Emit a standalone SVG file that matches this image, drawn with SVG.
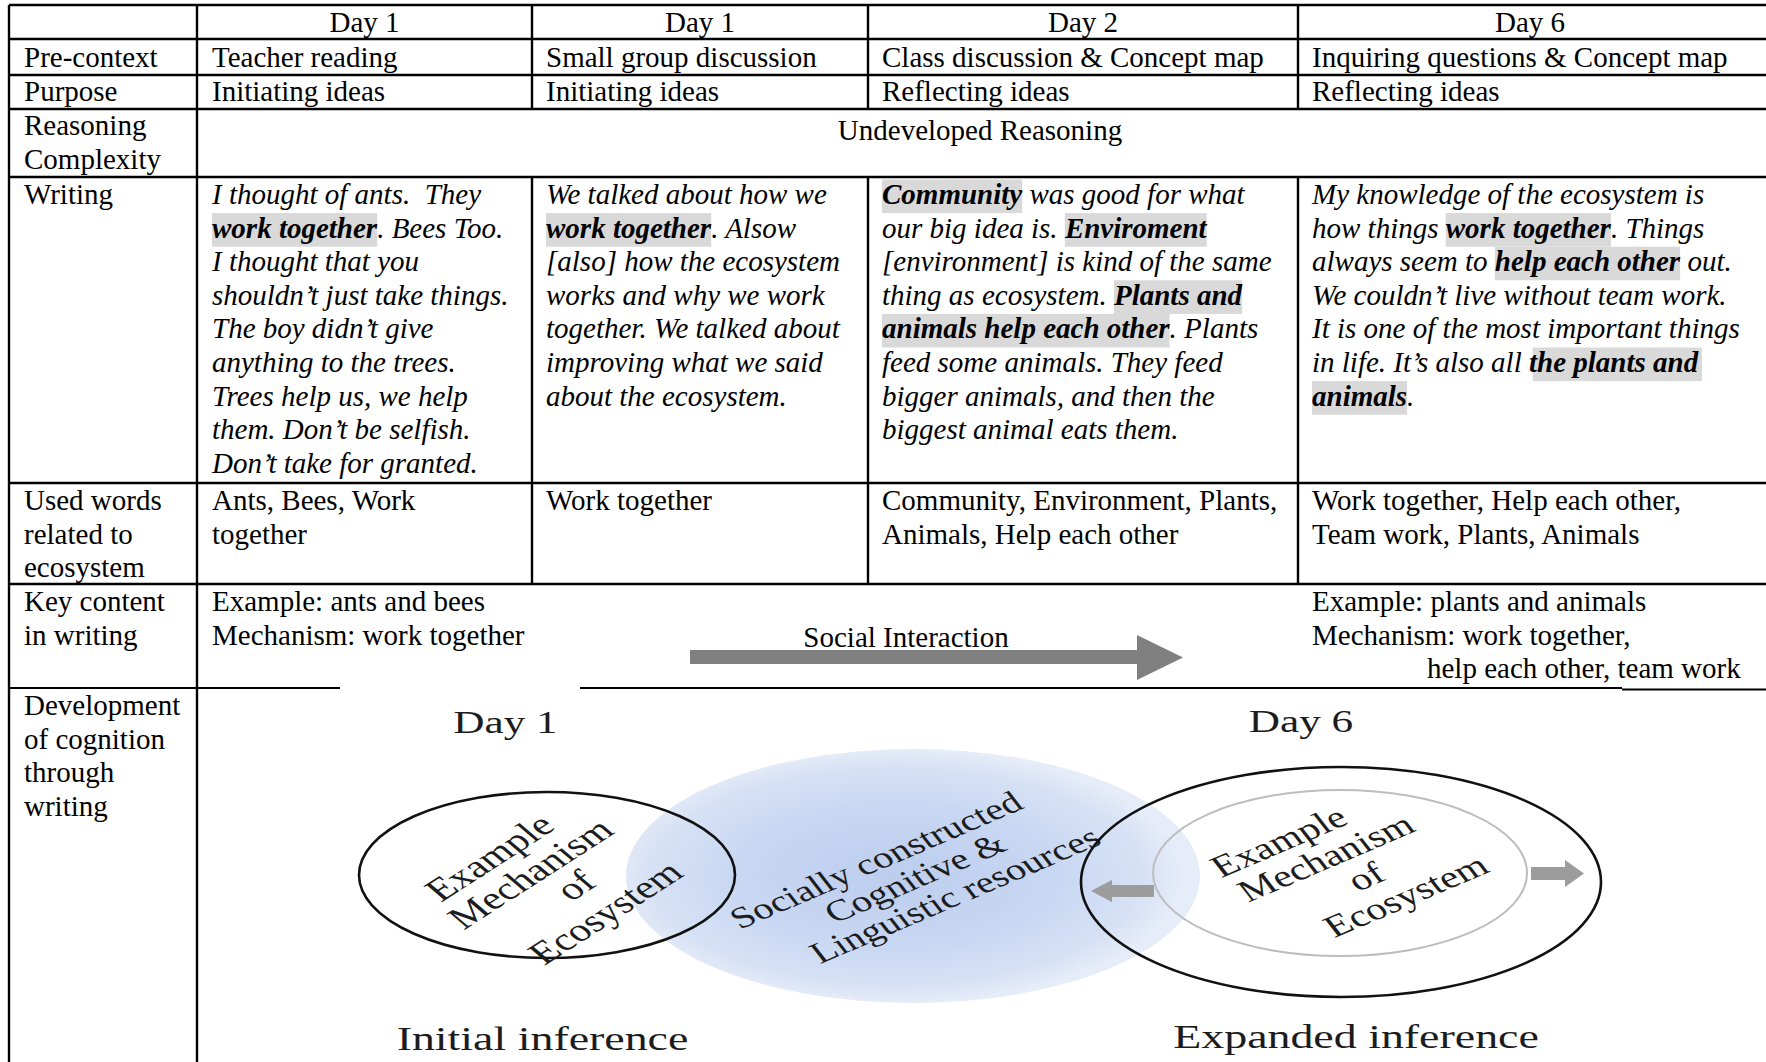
<svg xmlns="http://www.w3.org/2000/svg" width="1766" height="1062" viewBox="0 0 1766 1062">
<defs>
<style>
.t{font-family:"Liberation Serif","Times New Roman",serif;font-size:29px;fill:#000}
.i{font-style:italic}
.b{font-weight:bold}
.c{text-anchor:middle}
.hl{fill:#d9d9d9}
.ln{stroke:#000;stroke-width:2.4;fill:none}
.p{font-family:"Liberation Serif","Times New Roman",serif;fill:#1c1c1c;text-anchor:middle}
.el{fill:none;stroke:#111;stroke-width:2.6}
.ga{fill:#9c9c9c}
</style>
<radialGradient id="blue" cx="0.47" cy="0.5" r="0.5">
<stop offset="0" stop-color="#bccdee"/>
<stop offset="0.55" stop-color="#c8d7f2"/>
<stop offset="0.85" stop-color="#d6e1f5"/>
<stop offset="1" stop-color="#e6ecf8"/>
</radialGradient>
</defs>
<rect width="1766" height="1062" fill="#fff"/>

<g id="grid">
<path class="ln" d="M9 5H1766M9 39H1766M9 75H1766M9 109H1766M9 177H1766M9 483H1766M9 584H1766"/>
<path class="ln" d="M9 5V1062M197 5V1062M532 5V109M532 177V584M868 5V109M868 177V584M1298 5V109M1298 177V584"/>
<path class="ln" style="stroke-width:1.9" d="M9 688H340M580 688H1622M1622 689.5H1766"/>
</g>

<g id="header-row">
<text class="t c" x="364.5" y="32">Day 1</text>
<text class="t c" x="700" y="32">Day 1</text>
<text class="t c" x="1083" y="32">Day 2</text>
<text class="t c" x="1530" y="32">Day 6</text>
</g>

<g id="pre-context-row">
<text class="t" x="24" y="67">Pre-context</text>
<text class="t" x="212" y="67">Teacher reading</text>
<text class="t" x="546" y="67">Small group discussion</text>
<text class="t" x="882" y="67">Class discussion &amp; Concept map</text>
<text class="t" x="1312" y="67">Inquiring questions &amp; Concept map</text>
</g>

<g id="purpose-row">
<text class="t" x="24" y="101">Purpose</text>
<text class="t" x="212" y="101">Initiating ideas</text>
<text class="t" x="546" y="101">Initiating ideas</text>
<text class="t" x="882" y="101">Reflecting ideas</text>
<text class="t" x="1312" y="101">Reflecting ideas</text>
</g>

<g id="reasoning-row">
<text class="t" x="24" y="135">Reasoning</text>
<text class="t" x="24" y="168.6">Complexity</text>
<text class="t c" x="980" y="140">Undeveloped Reasoning</text>
</g>

<g id="writing-row">
<text class="t" x="24" y="204">Writing</text>
<rect class="hl" x="212" y="213.1" width="165.2" height="33.6"/>
<rect class="hl" x="546" y="213.1" width="165.2" height="33.6"/>
<rect class="hl" x="882" y="179.5" width="140.2" height="33.6"/>
<rect class="hl" x="1064.9" y="213.1" width="141.8" height="33.6"/>
<rect class="hl" x="1114" y="280.3" width="128.1" height="33.6"/>
<rect class="hl" x="882" y="313.9" width="287.6" height="33.6"/>
<rect class="hl" x="1445.7" y="213.1" width="165.2" height="33.6"/>
<rect class="hl" x="1494.8" y="246.7" width="185.3" height="33.6"/>
<rect class="hl" x="1532.7" y="347.5" width="169.2" height="33.6"/>
<rect class="hl" x="1312" y="381.1" width="95.1" height="33.6"/>
<g class="t i">
<text x="212" y="204" xml:space="preserve">I thought of ants.  They</text>
<text x="212" y="237.6"><tspan class="b">work together</tspan>. Bees Too.</text>
<text x="212" y="271.2">I thought that you</text>
<text x="212" y="304.8">shouldn’t just take things.</text>
<text x="212" y="338.4">The boy didn’t give</text>
<text x="212" y="372">anything to the trees.</text>
<text x="212" y="405.6">Trees help us, we help</text>
<text x="212" y="439.2">them. Don’t be selfish.</text>
<text x="212" y="472.8">Don’t take for granted.</text>

<text x="546" y="204">We talked about how we</text>
<text x="546" y="237.6"><tspan class="b">work together</tspan>. Alsow</text>
<text x="546" y="271.2">[also] how the ecosystem</text>
<text x="546" y="304.8">works and why we work</text>
<text x="546" y="338.4">together. We talked about</text>
<text x="546" y="372">improving what we said</text>
<text x="546" y="405.6">about the ecosystem.</text>

<text x="882" y="204"><tspan class="b">Community</tspan> was good for what</text>
<text x="882" y="237.6">our big idea is. <tspan class="b">Enviroment</tspan></text>
<text x="882" y="271.2">[environment] is kind of the same</text>
<text x="882" y="304.8">thing as ecosystem. <tspan class="b">Plants and</tspan></text>
<text x="882" y="338.4"><tspan class="b">animals help each other</tspan>. Plants</text>
<text x="882" y="372">feed some animals. They feed</text>
<text x="882" y="405.6">bigger animals, and then the</text>
<text x="882" y="439.2">biggest animal eats them.</text>

<text x="1312" y="204">My knowledge of the ecosystem is</text>
<text x="1312" y="237.6">how things <tspan class="b">work together</tspan>. Things</text>
<text x="1312" y="271.2">always seem to <tspan class="b">help each other</tspan> out.</text>
<text x="1312" y="304.8">We couldn’t live without team work.</text>
<text x="1312" y="338.4">It is one of the most important things</text>
<text x="1312" y="372">in life. It’s also all <tspan class="b">the plants and</tspan></text>
<text x="1312" y="405.6"><tspan class="b">animals</tspan>.</text>
</g>
</g>

<g id="used-words-row">
<text class="t" x="24" y="510">Used words</text>
<text class="t" x="24" y="543.6">related to</text>
<text class="t" x="24" y="577.2">ecosystem</text>
<text class="t" x="212" y="510">Ants, Bees, Work</text>
<text class="t" x="212" y="543.6">together</text>
<text class="t" x="546" y="510">Work together</text>
<text class="t" x="882" y="510">Community, Environment, Plants,</text>
<text class="t" x="882" y="543.6">Animals, Help each other</text>
<text class="t" x="1312" y="510">Work together, Help each other,</text>
<text class="t" x="1312" y="543.6">Team work, Plants, Animals</text>
</g>

<g id="key-content-row">
<text class="t" x="24" y="611">Key content</text>
<text class="t" x="24" y="644.6">in writing</text>
<text class="t" x="212" y="611">Example: ants and bees</text>
<text class="t" x="212" y="644.6">Mechanism: work together</text>
<text class="t c" x="906" y="647">Social Interaction</text>
<text class="t" x="1312" y="611">Example: plants and animals</text>
<text class="t" x="1312" y="644.6">Mechanism: work together,</text>
<text class="t" x="1427" y="678.2">help each other, team work</text>
</g>

<g id="development-row">
<text class="t" x="24" y="715">Development</text>
<text class="t" x="24" y="748.6">of cognition</text>
<text class="t" x="24" y="782.2">through</text>
<text class="t" x="24" y="815.8">writing</text>
</g>

<g id="shared-resources">
<ellipse cx="913" cy="876" rx="287" ry="127" fill="url(#blue)"/>
<text class="p" font-size="30" y="10" transform="translate(876,860) scale(1.35,1) rotate(-30)">Socially constructed</text>
<text class="p" font-size="30" y="10" transform="translate(915,878) scale(1.35,1) rotate(-30)">Cognitive &amp;</text>
<text class="p" font-size="30" y="10" transform="translate(955,895) scale(1.35,1) rotate(-30)">Linguistic resources</text>
</g>

<g id="day1-inference">
<text class="p" font-size="32" transform="translate(505.5,733) scale(1.35,1)">Day 1</text>
<ellipse class="el" cx="547" cy="875" rx="188" ry="83"/>
<text class="p" font-size="32" y="10" transform="translate(490,858) scale(1.35,1) rotate(-41)">Example</text>
<text class="p" font-size="32" y="10" transform="translate(531,874) scale(1.35,1) rotate(-41)">Mechanism</text>
<text class="p" font-size="32" y="10" transform="translate(576,886) scale(1.35,1) rotate(-41)">of</text>
<text class="p" font-size="32" y="10" transform="translate(606,913) scale(1.35,1) rotate(-41)">Ecosystem</text>
<text class="p" font-size="34" transform="translate(542.5,1050) scale(1.35,1)">Initial inference</text>
</g>

<g id="day6-inference">
<text class="p" font-size="32" transform="translate(1301,732) scale(1.35,1)">Day 6</text>
<ellipse class="el" cx="1341" cy="882" rx="260" ry="115"/>
<ellipse cx="1340" cy="873" rx="187" ry="83" fill="none" stroke="#bdbdbd" stroke-width="2"/>
<text class="p" font-size="31" y="10" transform="translate(1279,842) scale(1.35,1) rotate(-30)">Example</text>
<text class="p" font-size="31" y="10" transform="translate(1326,858) scale(1.35,1) rotate(-30)">Mechanism</text>
<text class="p" font-size="31" y="10" transform="translate(1366,877) scale(1.35,1) rotate(-30)">of</text>
<text class="p" font-size="31" y="10" transform="translate(1406,896) scale(1.35,1) rotate(-30)">Ecosystem</text>
<text class="p" font-size="34" transform="translate(1356,1048) scale(1.35,1)">Expanded inference</text>
</g>

<g id="connectors">
<path fill="#808080" d="M690 650H1137V635L1183 657.5L1137 680V664H690Z"/>
<path class="ga" d="M1154 885H1112V880L1091 891L1112 902V897H1154Z"/>
<path class="ga" d="M1531 867H1565V860L1584 873.5L1565 887V880H1531Z"/>
</g>
</svg>
